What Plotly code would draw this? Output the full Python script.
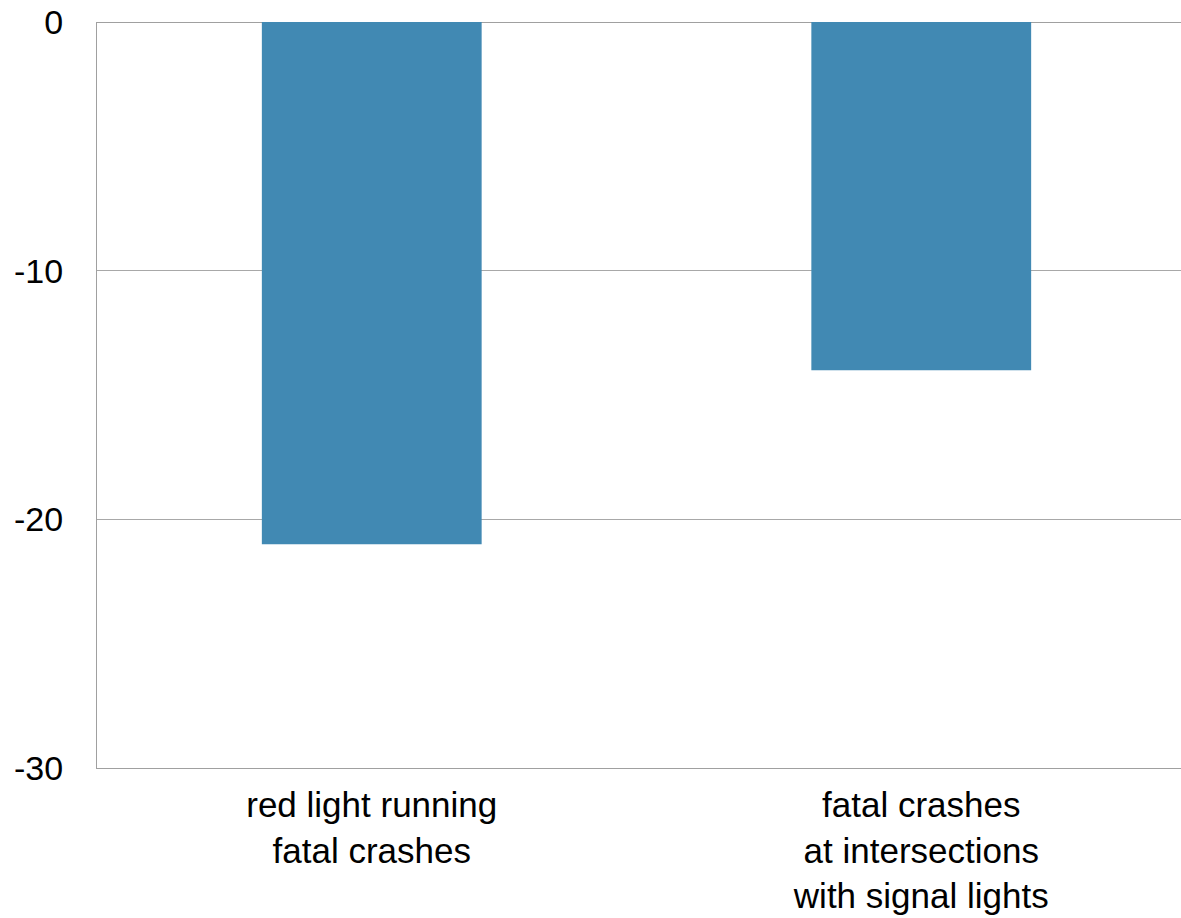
import plotly.graph_objects as go

categories = ["red light running<br>fatal crashes",
              "fatal crashes<br>at intersections<br>with signal lights"]
values = [-21, -14]
y_ticks = [0, -10, -20, -30]

fig = go.Figure()
fig.add_trace(go.Bar(x=[0, 1], y=values, width=0.4,
                     marker=dict(color="#4189B3", line=dict(width=0))))

fig.update_layout(
    width=1181, height=918,
    margin=dict(l=97, r=0, t=22, b=150),
    paper_bgcolor="white", plot_bgcolor="white",
    showlegend=False,
    font=dict(family="Liberation Sans, Arial, sans-serif", color="black"),
)
fig.update_xaxes(
    range=[-0.5, -0.5 + 1084 / 549.5],
    tickmode="array", tickvals=[0, 1], ticktext=categories,
    tickfont=dict(size=35), ticks="", showgrid=False,
    showline=True, linecolor="#a0a0a0", linewidth=1.3,
    ticklabelstandoff=6,
)
fig.update_yaxes(
    range=[-30, 0], tickmode="array", tickvals=y_ticks,
    ticktext=[str(v) for v in y_ticks],
    tickfont=dict(size=34), ticks="",
    showgrid=True, gridcolor="#a8a8a8", gridwidth=1,
    zeroline=True, zerolinecolor="#a0a0a0", zerolinewidth=1.3,
    showline=True, linecolor="#a0a0a0", linewidth=1.3,
    ticklabelstandoff=26,
)
fig.write_html(
    "out.html",
    config={"displayModeBar": False},
    post_script="document.body.style.margin='0';document.body.style.overflow='hidden';",
)
